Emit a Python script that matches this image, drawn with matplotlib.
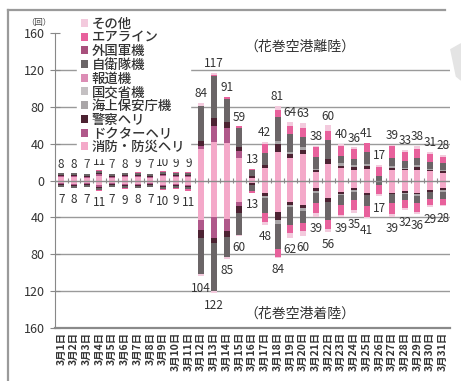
import numpy as np
import matplotlib.pyplot as plt
from matplotlib.lines import Line2D
from matplotlib.patches import Polygon

plt.rcParams['font.family'] = ['Noto Sans CJK JP', 'DejaVu Sans']

days = [f"3月{d}日" for d in range(1, 32)]

# stacking order from the zero line outwards (legend shows it reversed)
categories = ['消防・防災ヘリ', 'ドクターヘリ', '警察ヘリ', '海上保安庁機', '国交省機',
              '報道機', '自衛隊機', '外国軍機', 'エアライン', 'その他']
colors = ['#f4a9c9', '#b0588a', '#4c2232', '#aaa6a8', '#c4c0c2',
          '#dc8db5', '#6b6567', '#a8507c', '#e8619c', '#f3cadd']

# departures (花巻空港離陸), counts per day
up_fire    = [4, 4, 3, 5, 3, 4, 4, 3, 5, 4, 4, 34, 42, 41, 25, 3, 14, 31, 24, 29, 9, 18, 14, 12, 13, 0, 12, 11, 12, 10, 8]
up_doctor  = [1, 1, 1, 2, 1, 1, 1, 1, 1, 1, 1, 3, 17, 16, 7, 0, 0, 0, 0, 0, 0, 0, 0, 0, 0, 0, 0, 0, 0, 0, 0]
up_police  = [1, 1, 1, 1, 1, 1, 1, 1, 1, 1, 1, 6, 9, 7, 4, 2, 3, 9, 5, 4, 2, 5, 2, 3, 3, 0, 2, 2, 3, 2, 2]
up_coast   = [0, 0, 0, 0, 0, 0, 0, 0, 0, 0, 0, 0, 0, 0, 0, 0, 0, 3, 2, 3, 2, 0, 3, 2, 2, 0, 2, 1, 2, 1, 2]
up_mlit    = [0] * 31
up_press   = [0] * 31
up_sdf     = [2, 2, 2, 2, 2, 2, 2, 2, 2, 2, 2, 38, 45, 25, 21, 6, 13, 26, 20, 11, 13, 21, 8, 6, 13, 5, 9, 7, 8, 7, 7]
up_foreign = [0] * 31
up_airline = [0, 0, 0, 1, 0, 0, 1, 0, 1, 1, 1, 0, 2, 2, 2, 2, 10, 8, 8, 10, 10, 10, 11, 11, 10, 10, 12, 10, 9, 9, 7]
up_other   = [0, 0, 0, 0, 0, 0, 0, 0, 0, 0, 0, 3, 2, 0, 0, 0, 2, 4, 5, 6, 2, 6, 2, 2, 0, 2, 2, 2, 4, 2, 2]

# arrivals (花巻空港着陸), counts per day
dn_fire    = [3, 4, 3, 5, 3, 4, 4, 3, 5, 4, 5, 43, 40, 42, 23, 3, 13, 34, 23, 26, 8, 19, 12, 8, 13, 0, 13, 11, 13, 10, 8]
dn_doctor  = [1, 1, 1, 2, 1, 1, 1, 1, 1, 1, 1, 11, 22, 13, 5, 0, 0, 0, 0, 0, 0, 0, 0, 0, 0, 0, 0, 0, 0, 0, 0]
dn_police  = [1, 1, 1, 1, 1, 1, 1, 1, 1, 1, 1, 8, 6, 6, 7, 2, 4, 9, 3, 4, 3, 4, 3, 2, 3, 0, 2, 2, 2, 2, 2]
dn_coast   = [0, 0, 0, 0, 0, 0, 0, 0, 0, 0, 0, 0, 0, 0, 0, 0, 2, 4, 3, 3, 2, 0, 1, 2, 0, 0, 0, 2, 2, 0, 2]
dn_mlit    = [0] * 31
dn_press   = [0] * 31
dn_sdf     = [2, 2, 2, 2, 2, 2, 2, 2, 2, 2, 2, 39, 52, 22, 24, 6, 16, 27, 19, 13, 11, 20, 10, 9, 12, 5, 9, 6, 7, 8, 8]
dn_foreign = [0] * 31
dn_airline = [0, 0, 0, 1, 0, 1, 0, 0, 1, 1, 2, 0, 0, 0, 0, 2, 10, 9, 9, 9, 11, 9, 11, 11, 11, 10, 12, 9, 10, 7, 6]
dn_other   = [0, 0, 0, 0, 0, 0, 0, 0, 0, 0, 0, 3, 2, 2, 1, 0, 3, 1, 5, 5, 4, 4, 2, 3, 2, 2, 3, 2, 2, 2, 2]

up = [up_fire, up_doctor, up_police, up_coast, up_mlit, up_press, up_sdf, up_foreign, up_airline, up_other]
dn = [dn_fire, dn_doctor, dn_police, dn_coast, dn_mlit, dn_press, dn_sdf, dn_foreign, dn_airline, dn_other]

fig = plt.figure(figsize=(4.61, 3.81), dpi=100)
ax = fig.add_axes([0.119, 0.139, 0.857, 0.774])

x = np.arange(len(days))
w = 0.47
bot_up = np.zeros(len(days))
bot_dn = np.zeros(len(days))
handles = []
for name, col, vu, vd in zip(categories, colors, up, dn):
    vu = np.array(vu, dtype=float)
    vd = np.array(vd, dtype=float)
    h = ax.bar(x, vu, w, bottom=bot_up, color=col, label=name, zorder=3)
    ax.bar(x, -vd, w, bottom=-bot_dn, color=col, zorder=3)
    bot_up += vu
    bot_dn += vd
    handles.append(h)

for i in x:
    ax.text(i, bot_up[i] + 10, f"{int(bot_up[i])}", ha='center', va='center',
            fontsize=8.5, color='#333333', zorder=5)
    ax.text(i, -bot_dn[i] - 13, f"{int(bot_dn[i])}", ha='center', va='center',
            fontsize=8.5, color='#333333', zorder=5)

# grid lines and the zero line with small separators
for g in [-120, -80, -40, 40, 80, 120]:
    ax.axhline(g, color='#9a9a9a', lw=1, zorder=1)
ax.axhline(0, color='#8a8a8a', lw=1, zorder=4)
ax.vlines(x[:-1] + 0.5, -2.5, 2.5, color='#8a8a8a', lw=0.8, zorder=4)

ax.set_xlim(-0.5, 30.55)
ax.set_ylim(-160, 160)
yt = np.arange(-160, 161, 40)
ax.set_yticks(yt)
ax.set_yticklabels([str(abs(v)) for v in yt], fontsize=9, color='#333333')
ax.tick_params(axis='y', direction='inout', length=7, color='#888888', pad=4)
ax.set_xticks(x)
ax.set_xticklabels(days, rotation=90, fontsize=7.5, fontweight='bold', color='#333333')
ax.tick_params(axis='x', length=0, pad=3)
for s in ['top', 'right']:
    ax.spines[s].set_visible(False)
ax.spines['left'].set_color('#888888')
ax.spines['bottom'].set_color('#8a8a8a')
ax.spines['bottom'].set_linewidth(1.6)

ax.text(0.62, 0.955, '（花巻空港離陸）', transform=ax.transAxes, ha='center', va='center',
        fontsize=10, color='#333333')
ax.text(0.62, 0.05, '（花巻空港着陸）', transform=ax.transAxes, ha='center', va='center',
        fontsize=10, color='#333333')
ax.text(-0.01, 1.035, '（回）', transform=ax.transAxes, ha='right', va='center',
        fontsize=6, color='#444444')

leg = ax.legend(handles[::-1], categories[::-1], loc='upper left', bbox_to_anchor=(0.055, 1.07),
                fontsize=9.6, frameon=True, facecolor='white', edgecolor='white', framealpha=1,
                handlelength=0.55, handleheight=0.55, handletextpad=0.3, labelspacing=-0.02,
                borderpad=0.3, borderaxespad=0,
                prop={'size': 9.6, 'weight': 'medium'})
leg.set_zorder(6)
for t in leg.get_texts():
    t.set_color('#333333')

# scanned page frame
fig.add_artist(Line2D([0.018, 0.018], [0.0, 0.974], color='#9a9a9a', lw=1.6))
fig.add_artist(Line2D([0.018, 0.965], [0.974, 0.974], color='#9a9a9a', lw=1.6))
fig.add_artist(Polygon([[0.978, 0.87], [1.0, 0.885], [1.0, 0.79], [0.99, 0.80]],
                       closed=True, color='#e4e4e4'))

fig.savefig('out.png', dpi=100)
